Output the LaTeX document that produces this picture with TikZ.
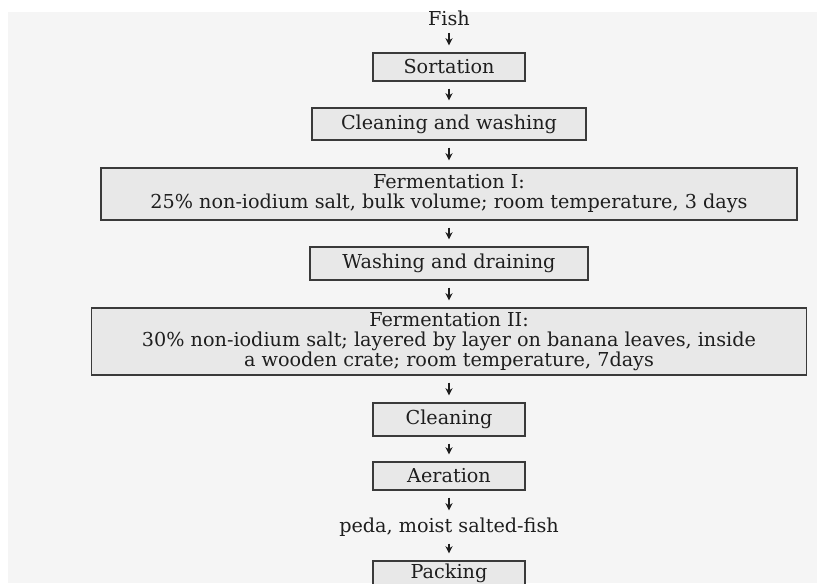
\documentclass[tikz,border=0pt]{standalone}
\usepackage{fontspec}
\setmainfont{DejaVu Serif}
\usetikzlibrary{arrows.meta,positioning}
\definecolor{boxgray}{HTML}{E8E8E8}
\definecolor{bggray}{HTML}{F5F5F5}
\definecolor{edgegray}{HTML}{3A3A3A}
\definecolor{inkgray}{HTML}{1E1E1E}
\tikzset{stage/.style={draw=edgegray,fill=boxgray,line width=0.65pt,inner sep=0pt,align=center}}
\tikzset{flow/.style={-{Stealth[length=3.6pt,width=3.6pt]},line width=0.65pt,draw=inkgray,shorten <=3.5pt,shorten >=3.5pt}}
\tikzset{plain/.style={inner sep=0pt,text=inkgray}}

\begin{document}
\begin{tikzpicture}[x=0.5pt,y=-0.5pt,font=\fontsize{9.6}{10}\selectfont,text=inkgray]
\clip (0,0) rectangle (817,583);
\fill[bggray] (8,12) rectangle (817,583);
%
\node (fish) [plain] at (449,18) {Fish};
\node (sort) [stage,minimum width=76pt,minimum height=14pt] at (449,67) {Sortation};
\node (wash) [stage,minimum width=137pt,minimum height=16pt] at (449,124) {Cleaning and washing};
\node (fermA) [stage,minimum width=348pt,minimum height=26pt] at (449,194)
  {Fermentation I:\\25\% non-iodium salt, bulk volume; room temperature, 3 days};
\node (drain) [stage,minimum width=139pt,minimum height=16.5pt] at (449,263.5) {Washing and draining};
\node (fermB) [stage,minimum width=357.5pt,minimum height=33.5pt] at (449,341.5)
  {Fermentation II:\\30\% non-iodium salt; layered by layer on banana leaves, inside\\a wooden crate; room temperature, 7days};
\node (clean) [stage,minimum width=76pt,minimum height=16.5pt] at (449,419.5) {Cleaning};
\node (aer) [stage,minimum width=76pt,minimum height=14pt] at (449,476) {Aeration};
\node (peda) [plain] at (449,527) {peda, moist salted-fish};
\node (pack) [stage,minimum width=76pt,minimum height=12pt] at (449,573) {Packing};
%
\draw[flow] (fish) -- (sort);
\draw[flow] (sort) -- (wash);
\draw[flow] (wash) -- (fermA);
\draw[flow] (fermA) -- (drain);
\draw[flow] (drain) -- (fermB);
\draw[flow] (fermB) -- (clean);
\draw[flow] (clean) -- (aer);
\draw[flow] (aer) -- (peda);
\draw[flow] (peda) -- (pack);
\end{tikzpicture}
\end{document}
